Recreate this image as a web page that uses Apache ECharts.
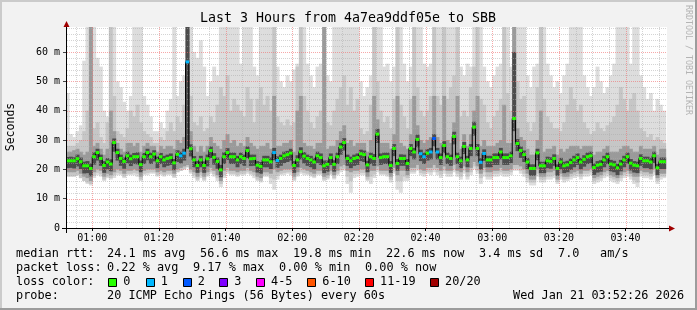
<!DOCTYPE html>
<html><head><meta charset="utf-8">
<script src="https://cdn.jsdelivr.net/npm/echarts@6/dist/echarts.min.js"></script>
<style>html,body{margin:0;padding:0;background:#f2f2f2}#c{width:697px;height:310px}</style>
</head><body><div id="c"></div>
<script>
// ---- time frame (seconds since midnight) ----
const viewStart = 3146;   // 00:52:26
const viewEnd = 13946;    // 03:52:26
const firstFull = 3180;   // 00:53:00 first full 60s step
const stepSec = 60;

// ---- x tick labels (major 20 min) and y major grid ----
const majorTimes = [3600, 4800, 6000, 7200, 8400, 9600, 10800, 12000, 13200];
const yMajor = [10, 20, 30, 40, 50, 60];

// ---- median rtt per step (ms) ----
const med = [22.9,22.9,22.9,23.6,22.6,21.2,21.2,20.3,24.3,25.7,
23.7,21.3,22.5,21.8,29.1,25.7,23.7,22.7,24.6,23.6,
24.3,24.3,21.6,24.3,25.7,24.3,25.2,22.9,24.3,23.2,
23.7,24.0,22.2,25.1,24.6,25.5,56.6,27.0,23.2,21.3,
23.2,21.3,23.6,26.4,24.1,22.7,19.8,24.3,25.7,24.3,
24.3,23.2,24.3,23.7,26.4,23.6,23.7,21.4,21.0,23.2,
23.2,22.6,25.7,23.0,23.7,24.6,25.0,25.5,21.3,23.2,
26.0,24.5,23.7,23.2,22.5,24.6,24.0,21.2,21.7,24.0,
21.7,24.3,27.6,29.1,23.7,22.9,23.7,24.0,25.3,25.0,
21.5,24.3,23.7,32.0,24.0,24.3,24.3,21.3,27.1,22.0,
23.7,23.7,22.0,27.1,25.9,30.2,25.3,24.3,25.5,25.9,
30.5,25.9,24.0,28.1,24.3,23.7,31.2,24.3,22.9,27.8,
23.2,27.1,34.4,27.1,22.4,25.4,23.2,23.2,24.0,24.0,
25.9,24.0,24.0,24.6,37.3,28.8,26.4,25.0,22.5,20.3,
20.3,25.6,21.2,21.2,22.9,22.7,23.7,20.3,22.5,21.2,
21.5,22.3,23.2,24.0,22.5,23.4,24.3,24.6,20.6,21.4,
21.7,23.2,24.3,21.8,21.5,20.5,21.8,23.2,24.3,22.1,
21.4,21.2,23.7,22.9,22.9,22.5,24.6,20.5,22.6,22.6];

// ---- lost pings per step (of 20) ----
const loss = [0,0,0,0,0,0,0,0,0,0, 0,0,0,0,0,0,0,0,0,0, 0,0,0,0,0,0,0,0,0,0,
0,0,0,0,1,1,1,0,0,0, 0,0,0,0,0,0,0,0,0,0, 0,0,0,0,0,0,0,0,0,0,
0,0,1,1,0,0,0,0,0,0, 0,0,0,0,0,0,0,0,0,0, 0,0,0,0,0,0,0,0,0,0,
0,0,0,0,0,0,0,0,0,0, 0,0,0,0,0,0,1,1,0,1, 2,1,0,0,0,0,0,0,0,0,
0,0,0,0,1,1,0,0,0,0, 0,0,0,0,0,0,0,0,0,0, 0,0,0,0,0,0,0,0,0,0,
0,0,0,0,0,0,0,0,0,0, 0,0,0,0,0,0,0,0,0,0, 0,0,0,0,0,0,0,0,0,0];

// ---- smoke: slowest ping (outer top) ----
const maxv = [46,32,31,33,35,57,68.5,68.5,68.5,58,
55,40,38,68.5,68.5,50,48,43,40,45,
68.5,68.5,68.5,45,42,38,33,33,36,34,
40,44,68.5,45,50,52,68.5,68.5,60,58,
64,55,45,50,55,52,68.5,68.5,68.5,68.5,
68.5,68.5,56,68.5,68.5,68.5,55,52,68.5,68.5,
68.5,68.5,68.5,55,50,48,52,50,54,56,
68.5,68.5,56,52,48,55,56,68.5,52,50,
68.5,68.5,68.5,68.5,68.5,68.5,68.5,68.5,50,45,
48,52,68.5,68.5,68.5,55,56,50,55,68.5,
68.5,56,50,55,68.5,68.5,68.5,56,55,56,
68.5,68.5,68.5,68.5,68.5,68.5,68.5,68.5,55,52,
56,55,68.5,68.5,68.5,55,50,48,52,55,
56,68.5,68.5,55,68.5,68.5,68.5,68.5,52,48,
55,56,68.5,68.5,56,52,48,50,46,52,
56,68.5,68.5,68.5,68.5,52,48,45,48,55,
50,46,48,52,56,68.5,68.5,68.5,68.5,56,
68.5,68.5,52,48,44,46,40,44,42,40];

// ---- smoke: second band top ----
const hi2 = [28,28,28,29,30,33,40,68.5,34,36,
31,29,36,68.5,45,33,32,31,34,40,
38,42,36,33,32,31,29,29,31,30,
33,36,33,38,36,42,68.5,45,36,35,
38,33,34,38,36,42,48,45,52,40,
44,42,40,38,48,44,36,44,48,42,
45,40,68.5,38,36,35,37,35,36,55,
68.5,45,40,36,34,38,40,68.5,36,35,
40,44,48,52,42,48,40,44,34,32,
33,42,68.5,50,40,36,38,34,44,68.5,
42,38,34,44,68.5,48,40,38,40,45,
68.5,45,42,68.5,44,48,52,68.5,38,40,
38,48,55,68.5,44,42,36,34,38,40,
44,68.5,46,40,68.5,50,44,45,36,33,
36,48,68.5,44,38,36,34,34,33,36,
42,48,44,40,42,36,34,32,33,36,
34,33,35,36,38,42,48,44,40,44,
46,40,34,33,31,32,30,31,30,29];

// ---- smoke: third band top ----
const hi3 = [26,26,26.5,27,26,25,26,68.5,28,29,
27,25,27,40,33,29,27,26,29,29,
28,29,26,28,29,28,28,26,28,27,
28,28,27,30,29,31,68.5,33,28,26,
28,26,28,31,29,28,27,30,32,29,
30,28,29,28,31,29,28,27,28,28,
29,27,45,28,28,29,29,30,26,40,
45,29,28,28,27,29,29,68.5,27,28,
28,30,33,35,29,30,28,29,29,29,
26,30,45,37,29,29,29,27,32,45,
29,28,27,32,45,35,30,29,30,31,
45,31,29,45,30,29,36,45,27,32,
28,32,40,45,28,30,28,28,28,29,
30,42,29,29,68.5,34,31,30,27,25,
25,30,40,26,27,27,28,25,27,26,
27,28,28,28,27,28,28,28,25,26,
26,27,28,26,26,26,27,28,28,27,
26,26,28,27,27,27,28,25,27,27];

// ---- smoke: dark core top ----
const hi4 = [24.2,24.3,24.1,25,24,22.6,22.8,22,25.8,27,
25,22.8,23.8,23.4,30.5,27,25,24,26,25,
25.6,25.8,23,25.6,27,25.7,26.5,24.3,25.6,24.6,
25,25.4,23.5,26.5,26,27,68.5,28.5,24.5,22.8,
24.6,22.7,25,27.8,25.5,24,21.5,25.8,27.2,25.7,
25.7,24.6,25.7,25,27.8,25,25,22.8,22.5,24.6,
24.6,24,27.3,24.4,25,26,26.3,27,22.8,24.8,
27.5,25.9,25,24.6,23.9,26,25.4,23,23,25.4,
23.1,25.7,29,30.6,25,24.3,25,25.4,26.7,26.4,
22.9,25.7,25.2,33.8,25.4,25.7,25.7,22.8,28.6,23.5,
25.1,25,23.5,28.6,27.3,31.8,26.7,25.7,26.9,27.3,
32,27.3,25.4,29.6,25.7,25,32.8,25.7,24.3,29.3,
24.6,28.6,36.2,28.6,23.8,26.8,24.6,24.6,25.4,25.4,
27.3,25.4,25.4,26,60,30.3,27.8,26.4,23.9,21.7,
21.7,27,22.6,22.6,24.3,24.1,25.1,21.7,23.9,22.6,
22.9,23.7,24.6,25.4,23.9,24.8,25.7,26,22,22.8,
23.1,24.6,25.7,23.2,22.9,21.9,23.2,24.6,25.7,23.5,
22.8,22.6,25.1,24.3,24.3,23.9,26,21.9,24,24];

// ---- smoke: dark core bottom ----
const lo4 = [20.4,20.5,20.3,21,20.1,18.6,18.7,17.6,21.6,23,
21.2,18.8,20,19.3,26,23,21.2,20.2,22,21.1,
21.8,21.7,19,21.8,23.1,21.8,22.7,20.4,21.8,20.7,
21.2,21.5,19.7,22.5,22,23,27,24.4,20.7,18.8,
20.7,18.8,21,23.8,21.6,20.2,17.3,21.8,23.2,21.8,
21.8,20.7,21.8,21.2,23.8,21.1,21.2,18.9,18.5,20.7,
20.7,20.1,23.1,20.5,21.2,22.1,22.5,23,18.8,20.7,
23.4,22,21.2,20.7,20,22.1,21.5,18.7,19.2,21.5,
19.2,21.8,25,26.4,21.2,20.4,21.2,21.5,22.8,22.5,
19,21.8,21.2,29,21.5,21.8,21.8,18.8,24.5,19.5,
21.2,21.2,19.5,24.5,23.4,27.5,22.8,21.8,23,23.4,
27.8,23.4,21.5,25.5,21.8,21.2,28.5,21.8,20.4,25.2,
20.7,24.5,31.5,24.5,19.9,22.9,20.7,20.7,21.5,21.5,
23.4,21.5,21.5,22.1,33,26.2,23.9,22.5,20,17.8,
17.8,23.1,18.7,18.7,20.4,20.2,21.2,17.8,20,18.7,
19,19.8,20.7,21.5,20,20.9,21.8,22.1,18.1,18.9,
19.2,20.7,21.8,19.3,19,18,19.3,20.7,21.8,19.6,
18.9,18.7,21.2,20.4,20.4,20,22.1,18,20.1,20.1];

// ---- smoke: third band bottom ----
const lo3 = [19,19,19,19.5,18.5,17.5,17,16,19,20,
19.5,17.5,18.5,18,19,20,19.5,18.5,19.5,19.5,
20,19.5,17.5,19.5,20,20,20,19,19.5,19,
19.5,19.5,18.5,20,20.5,21,21.5,20,19,17.5,
19,17.5,19,20.5,19.5,18,16,19.5,20.5,19.5,
19.5,19,19.5,19.5,20.5,19.5,19,17.5,17,19,
19,18.5,20,19,19.5,20,20,20,17.5,19,
20.5,20,19.5,19,18.5,19.5,19.5,17.5,18,19.5,
18,19.5,21,21.5,19.5,19,19.5,19.5,20,20,
17.5,19.5,19.5,21,19.5,19.5,19.5,17.5,20.5,18,
19.5,19.5,18,20.5,20.5,21.5,20,19.5,20.5,20.5,
21.5,20.5,19.5,21,19.5,19.5,21.5,19.5,19,21,
19,20.5,22.5,21,18.5,20.5,19,19,19.5,19.5,
20.5,19.5,19.5,20,21.5,21.5,21,20,18.5,16.5,
16.5,20,17.5,17.5,19,19,19.5,16.5,18.5,17.5,
17.5,18.5,19,19.5,18.5,19.5,19.5,20,17,17.5,
18,19,19.5,18,17.5,17,18,19,19.5,18.5,
17.5,17.5,19.5,19,19,18.5,20,17,18.5,18.5];

// ---- smoke: second band bottom ----
const lo2 = [17.5,17.5,17.5,18,17,16,15.5,15,17.8,18.8,
18.3,16.5,17.5,17,18,18.8,18.5,17.5,18.5,18.5,
18.8,18.5,16.5,18.5,18.8,19,19,18,18.5,18,
18.5,18.5,17.5,19,19.5,20,20.8,19,18,16.5,
18,16.5,18,19.2,18.3,17,15,18,19.2,18.5,
18.5,18,18.5,18.5,19.2,18.5,18,16.5,16,18,
18,17,16.5,17.8,18.5,18.8,19,19,16.5,18,
19.2,18.8,18.5,18,17.5,18.5,18.5,16.5,17,18.5,
17,18.5,19.8,20.2,17.5,16,18.3,18.5,18.8,18.8,
16.5,17.5,18.2,19.8,18.5,18.5,18.2,16.5,19.2,16,
16,17.5,17,19.2,19.2,20.2,18.8,18.5,19.2,19,
20,19,18.2,19.5,18.5,18.5,20,18.5,17.5,19.5,
17.5,19,21,19.5,17,19,17.5,17.5,18.5,18.5,
19,18.5,18.5,19,20.2,20.2,19.5,18.5,17,15.5,
15.5,18.5,16.5,16.5,17.5,17.5,18,15.7,17.5,16.5,
16.7,17.5,18,18.5,17.5,18.5,18.5,19,16,16.5,
17,18,18.5,17,16.5,16,17,18,18.5,17.5,
16.2,15.5,18.5,18,18,17.5,19,16,17.5,17.5];

// ---- smoke: fastest ping (outer bottom) ----
const minv = [18,18.5,18,18,17,16,15,14.5,17,18,
17.5,16,17,16.5,17,18,18,17,18,18,
18,17.5,16,18,18,18.5,18.5,17.5,18,17.5,
18,18,17,19,19.5,20,20.5,18.5,17,16,
17,16,17.5,18.5,17.5,16,14,17,18.5,18,
18,17.5,18,18,18.5,18,17,16,15.5,17.5,
17.5,15,13,16.5,18,18,18.5,18,16,17.5,
18.5,18,18,17.5,17,18,18,16,16.5,18,
16.5,18,19,19.5,15,12,17,17.5,18,18,
16,15,17,19,18,18,17.5,15.5,18.5,13,
12,16,16,18.5,18.5,19.5,18,17.5,18.5,18,
19,18,17,18.5,17.5,17.5,19,17.5,16.5,18.5,
16.5,18,20,18.5,15,17.5,16.5,16.5,17.5,17.5,
18,17.5,17.5,18,19.5,19.5,18.5,17.5,15.5,14.5,
14.5,17.5,15.5,15.5,16.5,16.5,17,15,16.5,15.5,
16,16.5,17,17.5,16.5,17.5,17.5,18,15,15.5,
16,17,17.5,16,15.5,15,16,17,17.5,16.5,
15,14,17.5,17,17,16.5,18,15,16.5,17];

// ---- legend texts ----
const lossClasses = ['0', '1', '2', '3', '4-5', '6-10', '11-19', '20/20'];
const lossColors  = ['#26ff00', '#00b8ff', '#0059ff', '#7e00ff', '#ff00ff', '#ff5500', '#ff0000', '#a10000'];
const lossClassOf = [0, 1, 2, 3, 4, 4, 5, 5, 5, 5, 5, 6, 6, 6, 6, 6, 6, 6, 6, 6, 7];
const rttLine = ['median rtt:', '24.1 ms avg', '56.6 ms max', '19.8 ms min', '22.6 ms now', '3.4 ms sd', '7.0', 'am/s'];
const lossLine = ['packet loss:', '0.22 % avg', '9.17 % max', '0.00 % min', '0.00 % now'];
const probeLine = ['probe:', '20 ICMP Echo Pings (56 Bytes) every 60s', 'Wed Jan 21 03:52:26 2026'];
const titleText = 'Last 3 Hours from 4a7ea9ddf05e to SBB';

// ---- layout (pixels) ----
const L = {
  rttX: [16, 107, 200, 293, 386, 479, 558, 600],
  lossX: [16, 107, 193, 279, 365],
  probeX: [16, 107, 513],
  boxX: [108.3, 145.7, 182.7, 219.3, 256, 307.3, 365, 430],
  rowY: [254, 268, 282, 296]
};

const tS = i => i === 0 ? viewStart : firstFull + (i - 1) * stepSec;
const tE = i => firstFull + i * stepSec;

const MONO = '"DejaVu Sans Mono", monospace';
const chart = echarts.init(document.getElementById('c'), null, {renderer: 'canvas'});

function band(lo, hi, color, z) {
  return {
    type: 'custom', z: z, silent: true, animation: false, clip: true,
    encode: {x: [0, 1], y: [2, 3]},
    data: med.map((_, i) => [tS(i), tE(i), lo[i], hi[i]]),
    renderItem: (params, api) => {
      const a = api.coord([api.value(0), api.value(3)]);
      const b = api.coord([api.value(1), api.value(2)]);
      return {type: 'rect', shape: {x: a[0], y: a[1], width: b[0] - a[0] + 0.6, height: b[1] - a[1]},
              style: {fill: color}};
    }
  };
}

// grid lines
const vMinor = [], hMinor = [];
for (let t = 3300; t < viewEnd; t += 300) if (t % 1200 !== 0) vMinor.push(t);
for (let v = 2; v < 68.5; v += 2) if (v % 10 !== 0) hMinor.push(v);
const gridData = [];
vMinor.forEach(t => gridData.push([0, t, 0]));
majorTimes.forEach(t => gridData.push([0, t, 1]));
hMinor.forEach(v => gridData.push([1, v, 0]));
yMajor.forEach(v => gridData.push([1, v, 1]));

const graphic = [];
// frame
graphic.push({type: 'rect', shape: {x: 0, y: 0, width: 697, height: 2}, style: {fill: '#cbcbcb'}, z: 0});
graphic.push({type: 'rect', shape: {x: 0, y: 0, width: 2, height: 310}, style: {fill: '#cbcbcb'}, z: 0});
graphic.push({type: 'rect', shape: {x: 0, y: 308, width: 697, height: 2}, style: {fill: '#9c9c9c'}, z: 0});
graphic.push({type: 'rect', shape: {x: 695, y: 0, width: 2, height: 310}, style: {fill: '#9c9c9c'}, z: 0});
// axes with arrows
graphic.push({type: 'line', shape: {x1: 62, y1: 228.5, x2: 670, y2: 228.5}, style: {stroke: '#000', lineWidth: 1}, z: 50});
graphic.push({type: 'line', shape: {x1: 66.5, y1: 233, x2: 66.5, y2: 24}, style: {stroke: '#000', lineWidth: 1}, z: 50});
graphic.push({type: 'polygon', shape: {points: [[669, 225.5], [675, 228.5], [669, 231.5]]}, style: {fill: '#a00000'}, z: 51});
graphic.push({type: 'polygon', shape: {points: [[63.5, 27], [66.5, 21], [69.5, 27]]}, style: {fill: '#a00000'}, z: 51});
// title
graphic.push({type: 'text', x: 348, y: 19, style: {text: titleText, font: '13.3px ' + MONO, fill: '#000', align: 'center', verticalAlign: 'middle'}, z: 60});
// y axis name
graphic.push({type: 'text', x: 11, y: 127, rotation: Math.PI / 2, style: {text: 'Seconds', font: '11.5px ' + MONO, fill: '#000', align: 'center', verticalAlign: 'middle'}, z: 60});
// watermark
graphic.push({type: 'text', x: 688, y: 60, rotation: -Math.PI / 2, style: {text: 'RRDTOOL / TOBI OETIKER', font: '8.3px ' + MONO, fill: '#b4b4b4', align: 'center', verticalAlign: 'middle'}, z: 60});
// legend rows
function txt(s, x, y) {
  graphic.push({type: 'text', x: x, y: y, style: {text: s, font: '11.85px ' + MONO, fill: '#000', align: 'left', verticalAlign: 'middle'}, z: 60});
}
rttLine.forEach((s, i) => txt(s, L.rttX[i], L.rowY[0]));
lossLine.forEach((s, i) => txt(s, L.lossX[i], L.rowY[1]));
txt('loss color:', 16, L.rowY[2]);
lossClasses.forEach((s, i) => {
  graphic.push({type: 'rect', shape: {x: Math.round(L.boxX[i]) + 0.5, y: 278.5, width: 8, height: 8},
                style: {fill: lossColors[i], stroke: '#000', lineWidth: 1}, z: 60});
  txt(s, L.boxX[i] + 15, L.rowY[2]);
});
probeLine.forEach((s, i) => txt(s, L.probeX[i], L.rowY[3]));

const pad = n => String(n).padStart(2, '0');

chart.setOption({
  animation: false,
  backgroundColor: '#f2f2f2',
  grid: {left: 67, top: 27, width: 600, height: 201, show: true, backgroundColor: '#ffffff', borderWidth: 0},
  xAxis: {
    type: 'value', min: viewStart, max: viewEnd,
    axisLine: {show: false},
    splitLine: {show: false},
    axisTick: {show: true, customValues: majorTimes, length: 3, lineStyle: {color: '#000'}},
    axisLabel: {customValues: majorTimes, margin: 5, color: '#000', fontFamily: 'DejaVu Sans Mono', fontSize: 10,
      formatter: v => pad(Math.floor(v / 3600)) + ':' + pad(Math.floor((v % 3600) / 60))}
  },
  yAxis: {
    type: 'value', min: 0, max: 68.5, interval: 10,
    axisLine: {show: false},
    splitLine: {show: false},
    axisTick: {show: true, length: 4, lineStyle: {color: '#444'}},
    axisLabel: {margin: 7, color: '#000', fontFamily: 'DejaVu Sans Mono', fontSize: 10, showMaxLabel: false,
      formatter: v => v === 0 ? '0' : (v + ' m')}
  },
  graphic: graphic,
  series: [
    band(minv, maxv, '#dddddd', 1),
    band(lo2, hi2, '#c6c6c6', 2),
    band(lo3, hi3, '#9a9a9a', 3),
    band(lo4, hi4, '#4c4c4c', 4),
    {
      type: 'custom', z: 5, silent: true, animation: false,
      data: gridData,
      renderItem: (params, api) => {
        const kind = api.value(0), v = api.value(1), major = api.value(2);
        const col = major ? 'rgba(240,110,110,0.6)' : 'rgba(170,170,170,0.5)';
        if (kind === 0) {
          const a = api.coord([v, 0]), b = api.coord([v, 68.5]);
          const x = Math.round(a[0]) + 0.5;
          return {type: 'line', shape: {x1: x, y1: a[1], x2: x, y2: b[1]}, style: {stroke: col, lineWidth: 1, lineDash: [1, 1]}};
        } else {
          const a = api.coord([viewStart, v]), b = api.coord([viewEnd, v]);
          const y = Math.round(a[1]) + 0.5;
          return {type: 'line', shape: {x1: a[0], y1: y, x2: b[0], y2: y}, style: {stroke: col, lineWidth: 1, lineDash: [1, 1]}};
        }
      }
    },
    {
      type: 'line', z: 6, silent: true, step: 'end', showSymbol: false, animation: false,
      lineStyle: {color: '#000', width: 1},
      data: med.map((m, i) => [tS(i), m]).concat([[tE(med.length - 1), med[med.length - 1]]])
    },
    {
      type: 'custom', z: 7, silent: true, animation: false,
      encode: {x: [0, 1], y: 2},
      data: med.map((m, i) => [tS(i), tE(i), m, loss[i]]),
      renderItem: (params, api) => {
        const a = api.coord([api.value(0), api.value(2)]);
        const b = api.coord([api.value(1), api.value(2)]);
        return {type: 'rect', shape: {x: a[0], y: a[1] - 1.5, width: b[0] - a[0] + 0.3, height: 3},
                style: {fill: lossColors[lossClassOf[api.value(3)]]}};
      }
    }
  ]
});
</script></body></html>
